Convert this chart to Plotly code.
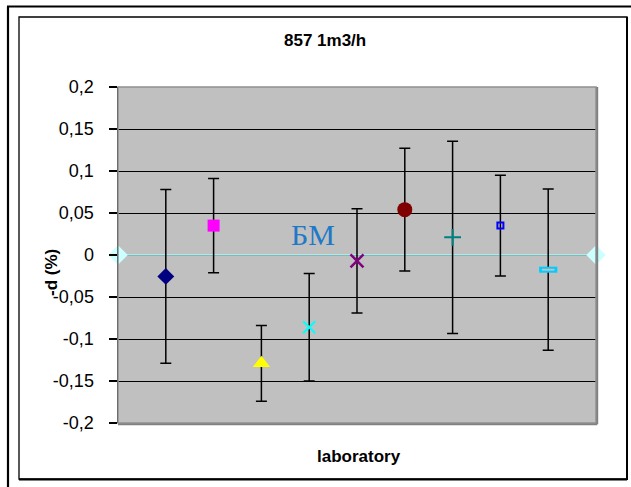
import plotly.graph_objects as go

# ---- data ----
labs = [1, 2, 3, 4, 5, 6, 7, 8, 9]
d_vals = [-0.0255, 0.035, -0.129, -0.086, -0.007, 0.054, 0.021, 0.035, -0.0175]
d_err = [0.1035, 0.056, 0.045, 0.064, 0.062, 0.073, 0.1145, 0.060, 0.096]
symbols = ['diamond', 'square', 'triangle-up', 'x-thin', 'x-thin', 'circle',
           'cross-thin', 'square-open', 'line-ew']
colors = ['#000080', '#ff00ff', '#ffff00', '#00ffff', '#800080', '#800000',
          '#008080', '#0000ff', '#00ccff']
bm_x = [0, 10]
bm_y = [0, 0]
y_ticks = [0.2, 0.15, 0.1, 0.05, 0, -0.05, -0.1, -0.15, -0.2]
y_tick_text = ['0,2', '0,15', '0,1', '0,05', '0', '-0,05', '-0,1', '-0,15', '-0,2']

W, H = 631, 487
L, R, T, B = 118, 35, 87, 64
PW, PH = W - L - R, H - T - B


def px(x):
    return (x - L) / PW


def py(y):
    return (H - B - y) / PH


FONT = 'Liberation Sans, Arial, sans-serif'

sizes = [13, 12, 15, 12, 13, 15, 12, 6, 13]
lwidths = [0, 0, 0, 2, 2.5, 0, 2, 2, 6]

fig = go.Figure()

# BM reference line
fig.add_trace(go.Scatter(
    x=bm_x, y=bm_y, mode='lines+markers',
    line=dict(color='#b0f4f4', width=1.5),
    marker=dict(symbol='diamond', size=15, color='#ccffff', opacity=1),
    cliponaxis=False, showlegend=False, hoverinfo='skip'))

# laboratory points with error bars
fig.add_trace(go.Scatter(
    x=labs, y=d_vals, mode='markers',
    error_y=dict(type='data', array=d_err, visible=True, color='black',
                 thickness=1.5, width=5.5),
    marker=dict(symbol=symbols, size=sizes, color=colors, opacity=1,
                line=dict(color=colors, width=lwidths)),
    cliponaxis=False, showlegend=False))

# hollow centre of the rectangle marker (lab 9)
fig.add_trace(go.Scatter(
    x=[labs[8]], y=[d_vals[8]], mode='markers',
    marker=dict(symbol='line-ew', size=9, color='#c0c0c0', opacity=1,
                line=dict(color='#c0c0c0', width=2)),
    showlegend=False, hoverinfo='skip'))

shapes = [
    # plot area border (grey), with shadow on right/bottom
    dict(type='rect', xref='paper', yref='paper', x0=0, x1=1, y0=0, y1=1,
         line=dict(color='#909090', width=1.5), layer='above'),
    dict(type='line', xref='paper', yref='paper', x0=1 + 1.2 / PW, x1=1 + 1.2 / PW,
         y0=-1.2 / PH, y1=1, line=dict(color='#808080', width=2)),
    dict(type='line', xref='paper', yref='paper', x0=0, x1=1 + 1.2 / PW,
         y0=-1.2 / PH, y1=-1.2 / PH, line=dict(color='#808080', width=2)),
    # chart area box
    dict(type='rect', xref='paper', yref='paper', x0=px(19), x1=px(627),
         y0=py(479), y1=py(17), line=dict(color='black', width=1.3)),
    dict(type='line', xref='paper', yref='paper', x0=px(627), x1=px(627),
         y0=py(480), y1=py(17), line=dict(color='black', width=2)),
    dict(type='line', xref='paper', yref='paper', x0=px(19), x1=px(627),
         y0=py(479.5), y1=py(479.5), line=dict(color='black', width=2)),
    # outer frame
    dict(type='line', xref='paper', yref='paper', x0=px(8), x1=px(8),
         y0=py(487), y1=py(6.5), line=dict(color='black', width=2.2)),
    dict(type='line', xref='paper', yref='paper', x0=px(7), x1=px(631),
         y0=py(6.5), y1=py(6.5), line=dict(color='black', width=2.2)),
]

annotations = [
    dict(text='857 1m3/h', xref='paper', yref='paper', x=px(325), y=py(40),
         showarrow=False, font=dict(family=FONT, size=17, color='black', weight='bold'),
         xanchor='center', yanchor='middle'),
    dict(text='laboratory', xref='paper', yref='paper', x=px(359), y=py(456),
         showarrow=False, font=dict(family=FONT, size=17, color='black', weight='bold'),
         xanchor='center', yanchor='middle'),
    dict(text='-d (%)', xref='paper', yref='paper', x=px(51), y=py(273),
         showarrow=False, textangle=-90,
         font=dict(family=FONT, size=17, color='black', weight='bold'),
         xanchor='center', yanchor='middle'),
    dict(text='БМ', xref='x', yref='y', x=4.07, y=0.025, showarrow=False,
         font=dict(family='Liberation Serif, Times New Roman, serif', size=30,
                   color='#2079c7'),
         xanchor='center', yanchor='middle'),
]

fig.update_layout(
    width=W, height=H,
    margin=dict(l=L, r=R, t=T, b=B, autoexpand=False),
    paper_bgcolor='white', plot_bgcolor='#c0c0c0',
    showlegend=False,
    shapes=shapes, annotations=annotations,
    xaxis=dict(range=[0, 10], showgrid=False, zeroline=False, showline=False,
               showticklabels=False, ticks='', automargin=False, fixedrange=True),
    yaxis=dict(range=[-0.2, 0.2], tickvals=y_ticks, ticktext=y_tick_text,
               showgrid=True, gridcolor='black', gridwidth=1,
               zeroline=False, showline=True, linecolor='black', linewidth=1.5,
               ticks='outside', ticklen=8, tickwidth=1.5, tickcolor='black',
               ticklabelstandoff=11,
               tickfont=dict(family=FONT, size=18, color='black'),
               automargin=False, fixedrange=True),
)

fig.write_html('out.html',
               config={'displayModeBar': False, 'staticPlot': True},
               post_script="document.body.style.margin='0';"
                           "document.body.style.overflow='hidden';")
